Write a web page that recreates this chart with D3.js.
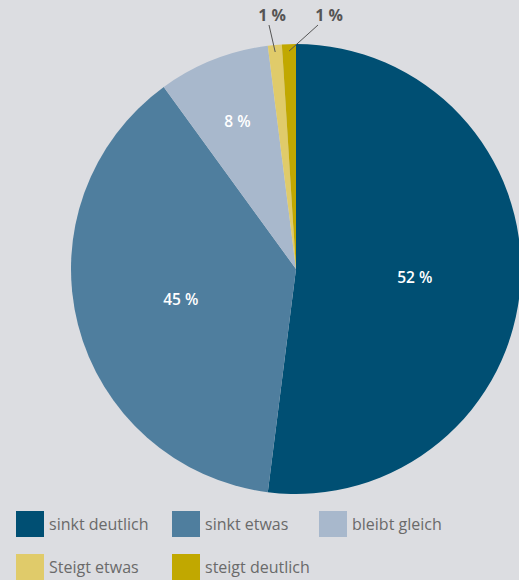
<!DOCTYPE html>
<html>
<head>
<meta charset="utf-8">
<script src="https://cdn.jsdelivr.net/npm/d3@7"></script>
<style>
  body { margin: 0; background: #dcdde1; }
  svg { display: block; font-family: "Open Sans", sans-serif; }
</style>
</head>
<body>
<div id="chart"></div>
<script>
// categories, slice shares (as drawn) and printed labels
var categories = ["sinkt deutlich", "sinkt etwas", "bleibt gleich", "Steigt etwas", "steigt deutlich"];
var shares = [52, 38, 8, 1, 1];
var labels = ["52 %", "45 %", "8 %", "1 %", "1 %"];
var colors = ["#004f73", "#4f7e9e", "#a8b8cc", "#e0cb6a", "#c1a800"];

var width = 519, height = 580;
var cx = 296, cy = 269, radius = 225;

var svg = d3.select("#chart").append("svg")
    .attr("width", width)
    .attr("height", height);

var data = categories.map(function(c, i) {
  return { name: c, value: shares[i], label: labels[i], color: colors[i] };
});

var pie = d3.pie().sort(null).value(function(d) { return d.value; });
var arc = d3.arc().innerRadius(0).outerRadius(radius);
var arcs = pie(data);

var g = svg.append("g").attr("transform", "translate(" + cx + "," + cy + ")");

g.selectAll("path.slice")
    .data(arcs)
  .enter().append("path")
    .attr("class", "slice")
    .attr("d", arc)
    .attr("fill", function(d) { return d.data.color; });

// labels inside the big slices
function labelPos(d) {
  var a = (d.startAngle + d.endAngle) / 2;
  var r = (d.endAngle - d.startAngle) > 1 ? 119 : 159;
  return [r * Math.sin(a), -r * Math.cos(a)];
}

var inside = arcs.filter(function(d) { return d.data.value >= 5; });
g.selectAll("text.inlabel")
    .data(inside)
  .enter().append("text")
    .attr("class", "inlabel")
    .attr("x", function(d) { return labelPos(d)[0]; })
    .attr("y", function(d) { return labelPos(d)[1]; })
    .attr("dy", "0.4em")
    .attr("text-anchor", "middle")
    .attr("fill", "#fff")
    .style("font-size", "15.5px")
    .style("font-weight", "600")
    .text(function(d) { return d.data.label; });

// small slices get labels on top with leader lines
var outside = arcs.filter(function(d) { return d.data.value < 5; });
var outX = [-24, 33]; // label offsets from the centre
outside.forEach(function(d, i) {
  var a = (d.startAngle + d.endAngle) / 2;
  var p = [(radius - 4) * Math.sin(a), -(radius - 4) * Math.cos(a)];
  var tx = outX[i], ty = -248;
  g.append("line")
      .attr("x1", p[0]).attr("y1", p[1] + 3)
      .attr("x2", i === 0 ? tx - 3 : tx - 11)
      .attr("y2", ty + 4)
      .attr("stroke", "#555")
      .attr("stroke-width", 1);
  g.append("text")
      .attr("x", tx)
      .attr("y", ty)
      .attr("text-anchor", "middle")
      .attr("fill", "#555")
      .style("font-size", "16px")
      .style("font-weight", "700")
      .text(d.data.label);
});

// legend
var legendPos = [[16, 511], [172, 511], [319, 511], [16, 554], [172, 554]];
var legend = svg.selectAll("g.legend")
    .data(data)
  .enter().append("g")
    .attr("class", "legend")
    .attr("transform", function(d, i) { return "translate(" + legendPos[i][0] + "," + legendPos[i][1] + ")"; });

legend.append("rect")
    .attr("width", 28)
    .attr("height", 26)
    .attr("fill", function(d) { return d.color; });

legend.append("text")
    .attr("x", 33)
    .attr("y", 19)
    .attr("fill", "#6a6a6a")
    .style("font-size", "16px")
    .text(function(d) { return d.name; });
</script>
</body>
</html>
